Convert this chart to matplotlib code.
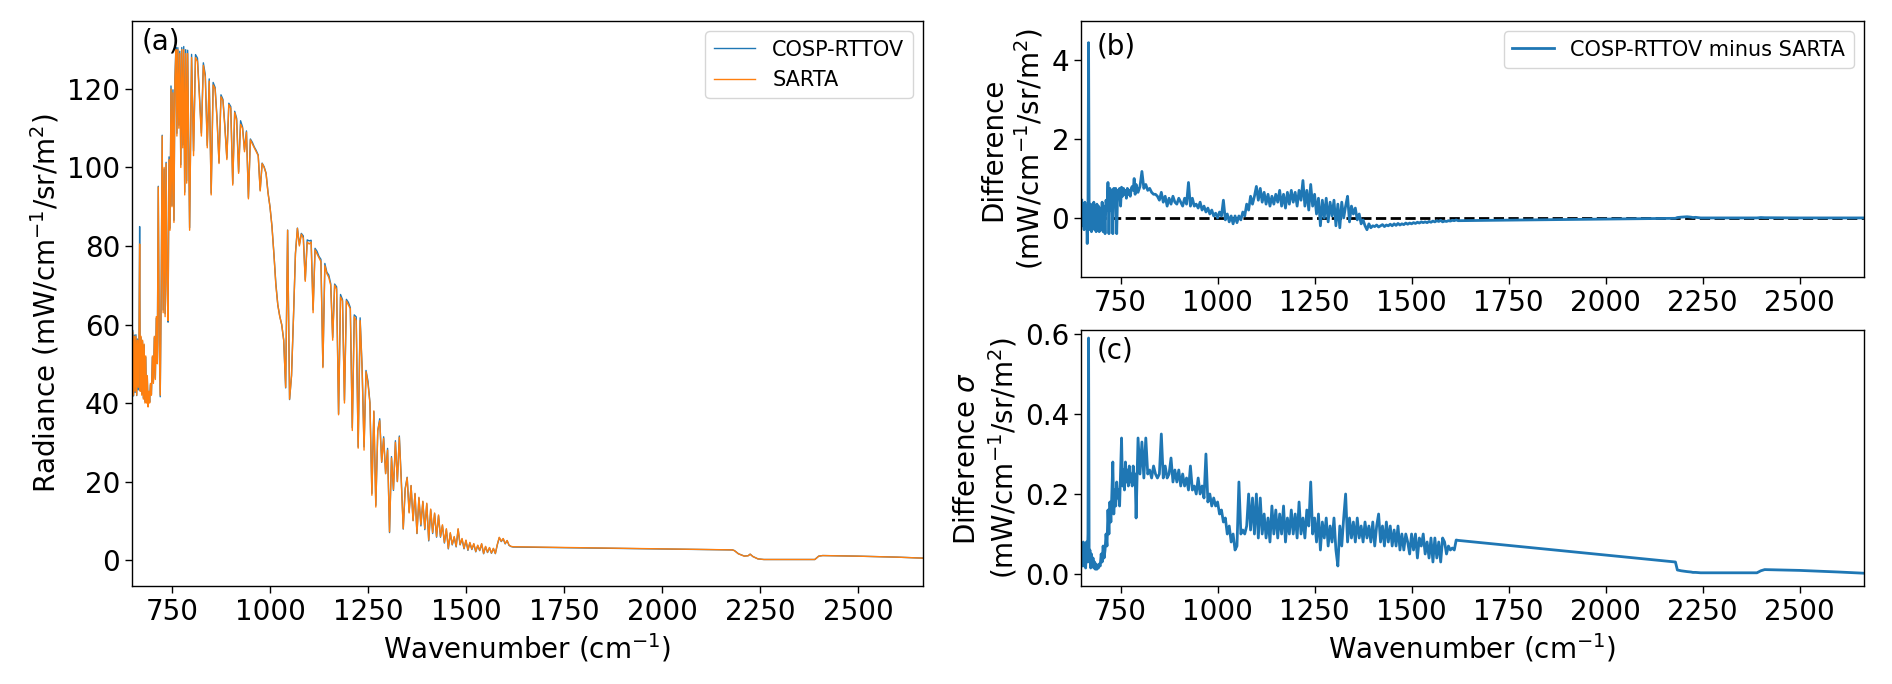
import matplotlib
matplotlib.use("Agg")
import matplotlib.pyplot as plt
from matplotlib.ticker import MultipleLocator
import numpy as np

# channel wavenumbers (cm-1)
wn = [650, 652, 654, 656, 658, 660, 662, 664, 666, 667.5,
      669, 671, 673, 675, 677, 679, 681, 683, 685, 687,
      689, 691, 693, 695, 697.5, 700, 702.5, 705, 707.5, 710,
      712.5, 715, 717.5, 720, 722.5, 725, 727.5, 730, 732.5, 735,
      737.5, 740, 742.5, 745, 747.5, 750, 752.5, 755, 757.5, 760,
      762.5, 765, 767.5, 770, 772.5, 775, 777.5, 780, 782.5, 785,
      787.5, 790,
      795, 800, 805, 810, 815, 820, 825, 830, 835, 840,
      845, 850, 855, 860, 865, 870, 875, 880, 885, 890,
      895, 900, 905, 910, 915, 920, 925, 930, 935, 940,
      945, 950, 955, 960, 965, 970, 975, 980, 985, 990,
      995, 1000, 1005, 1010, 1015, 1020, 1025, 1030, 1035, 1040,
      1045, 1050, 1055, 1060, 1065, 1070, 1075, 1080, 1085, 1090,
      1095, 1100, 1105, 1110, 1115, 1120, 1125, 1130, 1135, 1140,
      1145, 1150, 1155, 1160, 1165, 1170, 1175, 1180, 1185, 1190,
      1195, 1200, 1205, 1210, 1215, 1220, 1225, 1230, 1235, 1240,
      1245, 1250, 1255, 1260, 1265, 1270, 1275, 1280, 1285, 1290,
      1295, 1300, 1305, 1310, 1315, 1320, 1325, 1330, 1335, 1340,
      1345, 1350, 1355, 1360, 1365, 1370, 1375, 1380, 1385, 1390,
      1395, 1400, 1405, 1410, 1415, 1420, 1425, 1430, 1435, 1440,
      1445, 1450, 1455, 1460, 1465, 1470, 1475, 1480, 1485, 1490,
      1495, 1500, 1505, 1510, 1515, 1520, 1525, 1530, 1535, 1540,
      1545, 1550, 1555, 1560, 1565, 1570, 1575, 1580, 1585, 1590,
      1595, 1600, 1605, 1610, 1615, 1620, 2180, 2185, 2195, 2210,
      2220, 2225, 2232, 2245, 2260, 2390, 2400, 2410, 2500, 2600,
      2665]

# SARTA radiance (mW/cm-1/sr/m2)
sarta = [58, 42, 57, 43, 57, 42, 56, 44, 57, 80.5,
         43, 57, 42, 56, 41, 55, 40, 52, 40, 47,
         39, 43, 40, 45, 42, 52, 45, 57, 46, 62,
         50, 95, 55, 42, 68, 108, 63, 100, 62, 101,
         70, 61, 102, 84, 120, 90, 119, 86, 122, 130,
         108, 130, 110, 129, 100, 130, 105, 130, 93, 129,
         96, 129,
         84, 128, 103, 128, 127, 118, 108, 126, 123, 105,
         122, 93, 121, 120, 112, 101, 118, 117, 110, 102,
         116, 115, 95.5, 114, 112, 98.5, 111, 110, 104, 109,
         92, 107, 106, 105, 104, 103, 94, 101, 100, 98.5,
         93.5, 90, 85, 78, 70, 65, 62, 60, 56, 44,
         84, 41, 47, 62, 78, 84.5, 80, 83, 82, 71,
         81, 80.5, 81, 63, 79, 78, 77, 76, 49, 75,
         73, 72, 70, 56, 70, 69, 37, 67, 66, 40,
         66, 65, 64, 33, 62, 61, 28.5, 61, 49, 28,
         48, 45, 40, 16.5, 38, 13.5, 33, 35.5, 25, 31,
         22, 28, 7.2, 26, 18, 30, 20, 31.3, 20, 8,
         18, 21, 12, 19, 10, 17, 6.8, 16, 9, 15,
         8, 14.5, 5.1, 13, 7, 12, 6, 11.5, 6, 9,
         4.5, 8, 3, 7, 4, 6, 3.5, 8, 4, 5.5,
         3, 5.1, 2.6, 4.5, 2.8, 4.2, 2.2, 3.8, 2.5, 4.2,
         1.7, 3.5, 2, 3.2, 1.8, 3, 1.7, 4, 5.8, 4.8,
         5.5, 4.2, 5.0, 3.8, 3.5, 3.4, 2.6, 2.4, 1.6, 1.0,
         1.1, 1.5, 0.9, 0.3, 0.15, 0.15, 1.0, 1.15, 1.0, 0.75,
         0.5]

# mean difference COSP-RTTOV minus SARTA
diff = [0.45, -0.2, 0.3, -0.3, 0.4, -0.1, 0.3, -0.65, 0.2, 4.45,
        0.2, -0.3, 0.35, -0.35, 0.3, -0.25, 0.4, -0.3, 0.2, -0.35,
        0.35, -0.2, 0.3, -0.35, 0.25, -0.3, 0.4, -0.35, 0.3, -0.4,
        0.45, 0.2, 0.9, -0.4, 0.75, 0.2, 0.7, -0.4, 0.75, 0.3,
        0.75, -0.4, 0.7, 0.55, 0.75, 0.3, 0.78, 0.55, 0.75, 0.6,
        0.7, 0.5, 0.75, 0.6, 0.7, 0.55, 0.75, 0.8, 0.7, 1.0,
        0.6, 0.85,
        0.65, 0.8, 1.18, 0.75, 0.85, 0.7, 0.75, 0.65, 0.6, 0.6,
        0.55, 0.45, 0.65, 0.4, 0.55, 0.3, 0.5, 0.35, 0.55, 0.4,
        0.35, 0.5, 0.4, 0.3, 0.5, 0.35, 0.9, 0.3, 0.5, 0.3,
        0.35, 0.25, 0.4, 0.2, 0.3, 0.15, 0.25, 0.1, 0.2, 0.05,
        0.12, 0.0, 0.15, 0.05, 0.45, -0.05, 0.1, -0.1, 0.05, -0.15,
        0.05, -0.12, 0.05, -0.05, 0.15, 0.05, 0.35, 0.2, 0.55, 0.35,
        0.55, 0.8, 0.45, 0.75, 0.4, 0.65, 0.35, 0.6, 0.3, 0.55,
        0.35, 0.6, 0.4, 0.7, 0.3, 0.6, 0.25, 0.65, 0.35, 0.7,
        0.4, 0.65, 0.3, 0.7, 0.45, 0.95, 0.3, 0.7, 0.2, 0.85,
        0.3, 0.6, 0.1, 0.5, -0.2, 0.45, 0.0, 0.5, -0.1, 0.4,
        0.05, 0.45, -0.2, 0.35, -0.25, 0.4, 0.0, 0.3, 0.55, -0.1,
        0.3, 0.1, 0.25, -0.05, 0.1, -0.15, -0.05, -0.2, -0.3, -0.15,
        -0.25, -0.2, -0.22, -0.18, -0.23, -0.2, -0.17, -0.22, -0.18, -0.2,
        -0.16, -0.2, -0.15, -0.19, -0.14, -0.18, -0.15, -0.17, -0.13, -0.16,
        -0.13, -0.15, -0.12, -0.14, -0.11, -0.13, -0.1, -0.12, -0.1, -0.12,
        -0.09, -0.11, -0.08, -0.1, -0.07, -0.09, -0.06, -0.1, -0.08, -0.09,
        -0.07, -0.08, -0.06, -0.07, -0.05, -0.07, -0.01, 0.01, 0.02, 0.03,
        0.02, 0.01, 0.015, 0.0, 0.0, 0.0, 0.01, 0.005, 0.0, 0.0,
        0.0]

# standard deviation of the difference
sigma = [0.07, 0.02, 0.08, 0.02, 0.05, 0.015, 0.08, 0.03, 0.1, 0.59,
         0.03, 0.06, 0.015, 0.05, 0.02, 0.04, 0.015, 0.03, 0.012, 0.025,
         0.012, 0.02, 0.015, 0.025, 0.02, 0.05, 0.03, 0.07, 0.04, 0.06,
         0.1, 0.07, 0.16, 0.1, 0.18, 0.13, 0.2, 0.28, 0.15, 0.21,
         0.17, 0.23, 0.19, 0.21, 0.17, 0.26, 0.34, 0.22, 0.26, 0.21,
         0.28, 0.23, 0.26, 0.22, 0.27, 0.23, 0.25, 0.22, 0.27, 0.24,
         0.25, 0.14,
         0.34, 0.25, 0.33, 0.24, 0.34, 0.25, 0.26, 0.24, 0.27, 0.25,
         0.24, 0.25, 0.35, 0.24, 0.27, 0.24, 0.25, 0.29, 0.23, 0.26,
         0.23, 0.26, 0.22, 0.25, 0.22, 0.24, 0.21, 0.27, 0.21, 0.22,
         0.2, 0.24, 0.2, 0.22, 0.19, 0.3, 0.18, 0.2, 0.17, 0.19,
         0.17, 0.18, 0.15, 0.16, 0.13, 0.14, 0.1, 0.12, 0.08, 0.1,
         0.06, 0.07, 0.23, 0.1, 0.11, 0.1, 0.12, 0.2, 0.11, 0.19,
         0.1, 0.2, 0.09, 0.19, 0.1, 0.15, 0.09, 0.14, 0.08, 0.17,
         0.1, 0.16, 0.09, 0.15, 0.1, 0.17, 0.08, 0.14, 0.1, 0.16,
         0.1, 0.15, 0.09, 0.18, 0.1, 0.14, 0.09, 0.16, 0.12, 0.23,
         0.1, 0.14, 0.08, 0.15, 0.06, 0.13, 0.09, 0.14, 0.07, 0.12,
         0.08, 0.14, 0.06, 0.02, 0.12, 0.07, 0.14, 0.2, 0.08, 0.14,
         0.09, 0.13, 0.08, 0.14, 0.09, 0.12, 0.08, 0.13, 0.09, 0.12,
         0.08, 0.13, 0.07, 0.12, 0.15, 0.08, 0.12, 0.07, 0.13, 0.08,
         0.12, 0.07, 0.11, 0.07, 0.12, 0.06, 0.1, 0.06, 0.1, 0.08,
         0.05, 0.1, 0.06, 0.1, 0.04, 0.09, 0.07, 0.1, 0.05, 0.08,
         0.04, 0.09, 0.03, 0.09, 0.04, 0.08, 0.03, 0.09, 0.08, 0.05,
         0.07, 0.06, 0.065, 0.06, 0.085, 0.084, 0.03, 0.01, 0.008, 0.006,
         0.005, 0.004, 0.004, 0.003, 0.003, 0.003, 0.008, 0.011, 0.009, 0.005,
         0.002]

wn = np.array(wn, dtype=float)
sarta = np.array(sarta)
diff = np.array(diff)
sigma = np.array(sigma)
cosp = sarta + diff

W, H = 1892, 684
fig = plt.figure(figsize=(W / 100, H / 100), dpi=100)

def box(l, r, t, b):
    return [l / W, 1 - b / H, (r - l) / W, (b - t) / H]

ax1 = fig.add_axes(box(132, 923, 21, 586))
ax2 = fig.add_axes(box(1081, 1864, 21, 277))
ax3 = fig.add_axes(box(1081, 1864, 330, 586))

fs = 20
unit = r"(mW/cm$^\mathregular{-1}$/sr/m$^\mathregular{2}$)"

# (a) spectra
ax1.plot(wn, cosp, color="C0", lw=1, label="COSP-RTTOV")
ax1.plot(wn, sarta, color="C1", lw=1, label="SARTA")
ax1.set_ylim(-6.6, 137.3)
ax1.set_ylabel("Radiance " + unit, fontsize=fs)
ax1.set_xlabel(r"Wavenumber (cm$^{-1}$)", fontsize=fs)
ax1.legend(loc="upper right", fontsize=15)
ax1.text(0.012, 0.988, "(a)", transform=ax1.transAxes, fontsize=fs, va="top")

# (b) difference
ax2.plot(wn, diff, color="C0", lw=2, label="COSP-RTTOV minus SARTA")
ax2.axhline(0, color="k", ls="--", lw=2, zorder=1)
ax2.set_ylim(-1.5, 5.0)
ax2.set_ylabel("Difference\n" + unit, fontsize=fs)
ax2.legend(loc="upper right", fontsize=15)
ax2.text(0.02, 0.955, "(b)", transform=ax2.transAxes, fontsize=fs, va="top")

# (c) standard deviation of difference
ax3.plot(wn, sigma, color="C0", lw=2)
ax3.set_ylim(-0.03, 0.61)
ax3.set_ylabel("Difference $\\sigma$\n" + unit, fontsize=fs)
ax3.set_xlabel(r"Wavenumber (cm$^{-1}$)", fontsize=fs)
ax3.text(0.02, 0.975, "(c)", transform=ax3.transAxes, fontsize=fs, va="top")
ax3.yaxis.set_major_locator(MultipleLocator(0.2))

for ax in (ax1, ax2, ax3):
    ax.set_xlim(648, 2666)
    ax.xaxis.set_major_locator(MultipleLocator(250))
    ax.tick_params(labelsize=fs, length=5, width=1)
    for s in ax.spines.values():
        s.set_linewidth(1)

fig.savefig("out.png", dpi=100)
